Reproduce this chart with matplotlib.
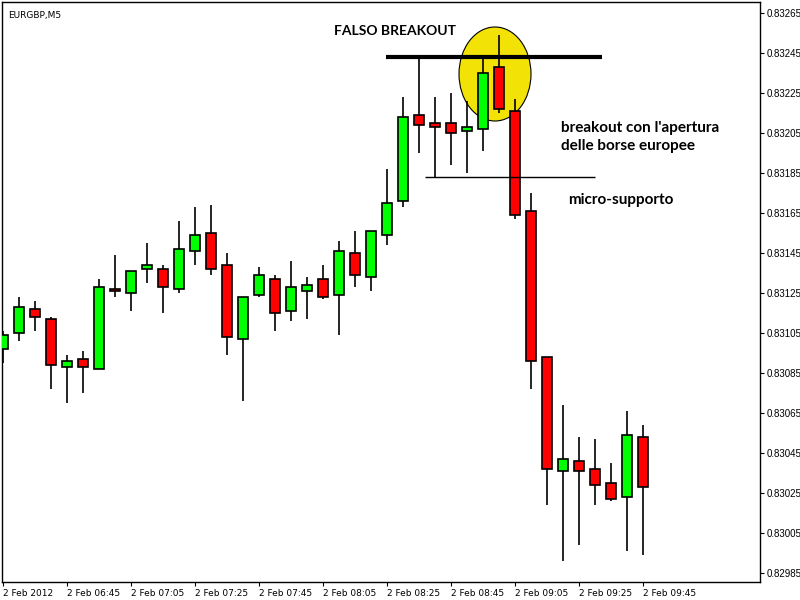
import matplotlib
matplotlib.use("Agg")
import matplotlib.pyplot as plt
from matplotlib.patches import Ellipse

# EURGBP M5, 2 Feb 2012, 06:25 -> 09:45 (one bar every 5 minutes)
opens = [0.83097, 0.83105, 0.83117, 0.83112, 0.83088, 0.83092, 0.83087, 0.83127, 0.83125, 0.83137,
         0.83137, 0.83127, 0.83146, 0.83155, 0.83139, 0.83102, 0.83124, 0.83132, 0.83116, 0.83126,
         0.83132, 0.83124, 0.83145, 0.83133, 0.83154, 0.83171, 0.83214, 0.83210, 0.83210, 0.83206,
         0.83207, 0.83238, 0.83216, 0.83166, 0.83093, 0.83036, 0.83041, 0.83037, 0.83030, 0.83023,
         0.83053]
highs = [0.83106, 0.83123, 0.83121, 0.83113, 0.83094, 0.83096, 0.83132, 0.83144, 0.83136, 0.83150,
         0.83139, 0.83161, 0.83168, 0.83169, 0.83145, 0.83123, 0.83138, 0.83134, 0.83141, 0.83133,
         0.83139, 0.83151, 0.83156, 0.83156, 0.83187, 0.83223, 0.83242, 0.83223, 0.83225, 0.83221,
         0.83243, 0.83254, 0.83222, 0.83175, 0.83093, 0.83069, 0.83053, 0.83052, 0.83040, 0.83066,
         0.83059]
lows = [0.83090, 0.83101, 0.83106, 0.83077, 0.83070, 0.83075, 0.83087, 0.83123, 0.83116, 0.83130,
        0.83115, 0.83125, 0.83139, 0.83134, 0.83094, 0.83071, 0.83123, 0.83106, 0.83111, 0.83112,
        0.83122, 0.83104, 0.83128, 0.83126, 0.83149, 0.83168, 0.83195, 0.83183, 0.83189, 0.83185,
        0.83196, 0.83215, 0.83162, 0.83077, 0.83019, 0.82991, 0.82999, 0.83019, 0.83021, 0.82996,
        0.82994]
closes = [0.83104, 0.83118, 0.83113, 0.83089, 0.83091, 0.83088, 0.83128, 0.83126, 0.83136, 0.83139,
          0.83128, 0.83147, 0.83154, 0.83137, 0.83103, 0.83123, 0.83134, 0.83115, 0.83128, 0.83129,
          0.83123, 0.83146, 0.83134, 0.83156, 0.83170, 0.83213, 0.83209, 0.83208, 0.83205, 0.83208,
          0.83235, 0.83217, 0.83164, 0.83091, 0.83037, 0.83042, 0.83036, 0.83029, 0.83022, 0.83054,
          0.83028]

x_labels = ["2 Feb 2012", "2 Feb 06:45", "2 Feb 07:05", "2 Feb 07:25", "2 Feb 07:45", "2 Feb 08:05",
            "2 Feb 08:25", "2 Feb 08:45", "2 Feb 09:05", "2 Feb 09:25", "2 Feb 09:45"]
y_ticks = [0.82985, 0.83005, 0.83025, 0.83045, 0.83065, 0.83085, 0.83105, 0.83125,
           0.83145, 0.83165, 0.83185, 0.83205, 0.83225, 0.83245, 0.83265]

fig = plt.figure(figsize=(8, 6), dpi=100)
ax = fig.add_axes([2 / 800, 18 / 600, 758 / 800, 580 / 600])

xs = list(range(len(opens)))

# yellow circle around the false breakout
ax.add_patch(Ellipse((30.75, 0.832344), 4.5, 0.00047, facecolor="#f2e205",
                     edgecolor="black", linewidth=0.8, zorder=1))

# wicks then bodies
ax.vlines(xs, lows, highs, color="black", linewidth=1.2, zorder=2)
for i in xs:
    o, c = opens[i], closes[i]
    col = "#00ff00" if c >= o else "#ff0000"
    h = abs(c - o)
    if h < 0.00001:
        h = 0.00001
    ax.bar(i, h, bottom=min(o, c), width=0.625, color=col, edgecolor="black",
           linewidth=1.2, zorder=3)

# resistance (high of the breakout candle) and micro support
resistance = highs[30]
support = lows[27]
ax.hlines(resistance, 23.94, 37.44, color="black", linewidth=3, zorder=4)
ax.hlines(support, 26.4, 37.0, color="black", linewidth=1, zorder=4)

font_ann = ["Lato", "DejaVu Sans"]
ax.text(20.7, 0.832559, "FALSO BREAKOUT", family=font_ann, fontweight="bold",
        fontsize=10, va="center", ha="left", zorder=5)
ax.text(34.9, 0.832029, "breakout con l'apertura\ndelle borse europee", family=font_ann,
        fontweight="bold", fontsize=11, va="center", ha="left", linespacing=1.3, zorder=5)
ax.text(35.3, 0.831714, "micro-supporto", family=font_ann, fontweight="bold",
        fontsize=11, va="center", ha="left", zorder=5)

ax.text(0.008, 0.985, "EURGBP,M5", transform=ax.transAxes, fontsize=6.5,
        va="top", ha="left")

ax.set_xlim(-0.0625, 47.3125)
ax.set_ylim(0.829804, 0.832704)

ax.set_xticks(xs[::4])
ax.set_xticklabels(x_labels, fontsize=6.5, ha="left")
ax.tick_params(axis="x", direction="out", length=3, pad=2)

ax.yaxis.tick_right()
ax.set_yticks(y_ticks)
ax.set_yticklabels([f"{v:.5f}" for v in y_ticks], fontsize=7,
                   family=["Liberation Sans Narrow", "Liberation Sans"])
ax.tick_params(axis="y", direction="out", length=3, pad=1.5)

for s in ax.spines.values():
    s.set_color("black")
    s.set_linewidth(1)

fig.savefig("out.png", dpi=100)
